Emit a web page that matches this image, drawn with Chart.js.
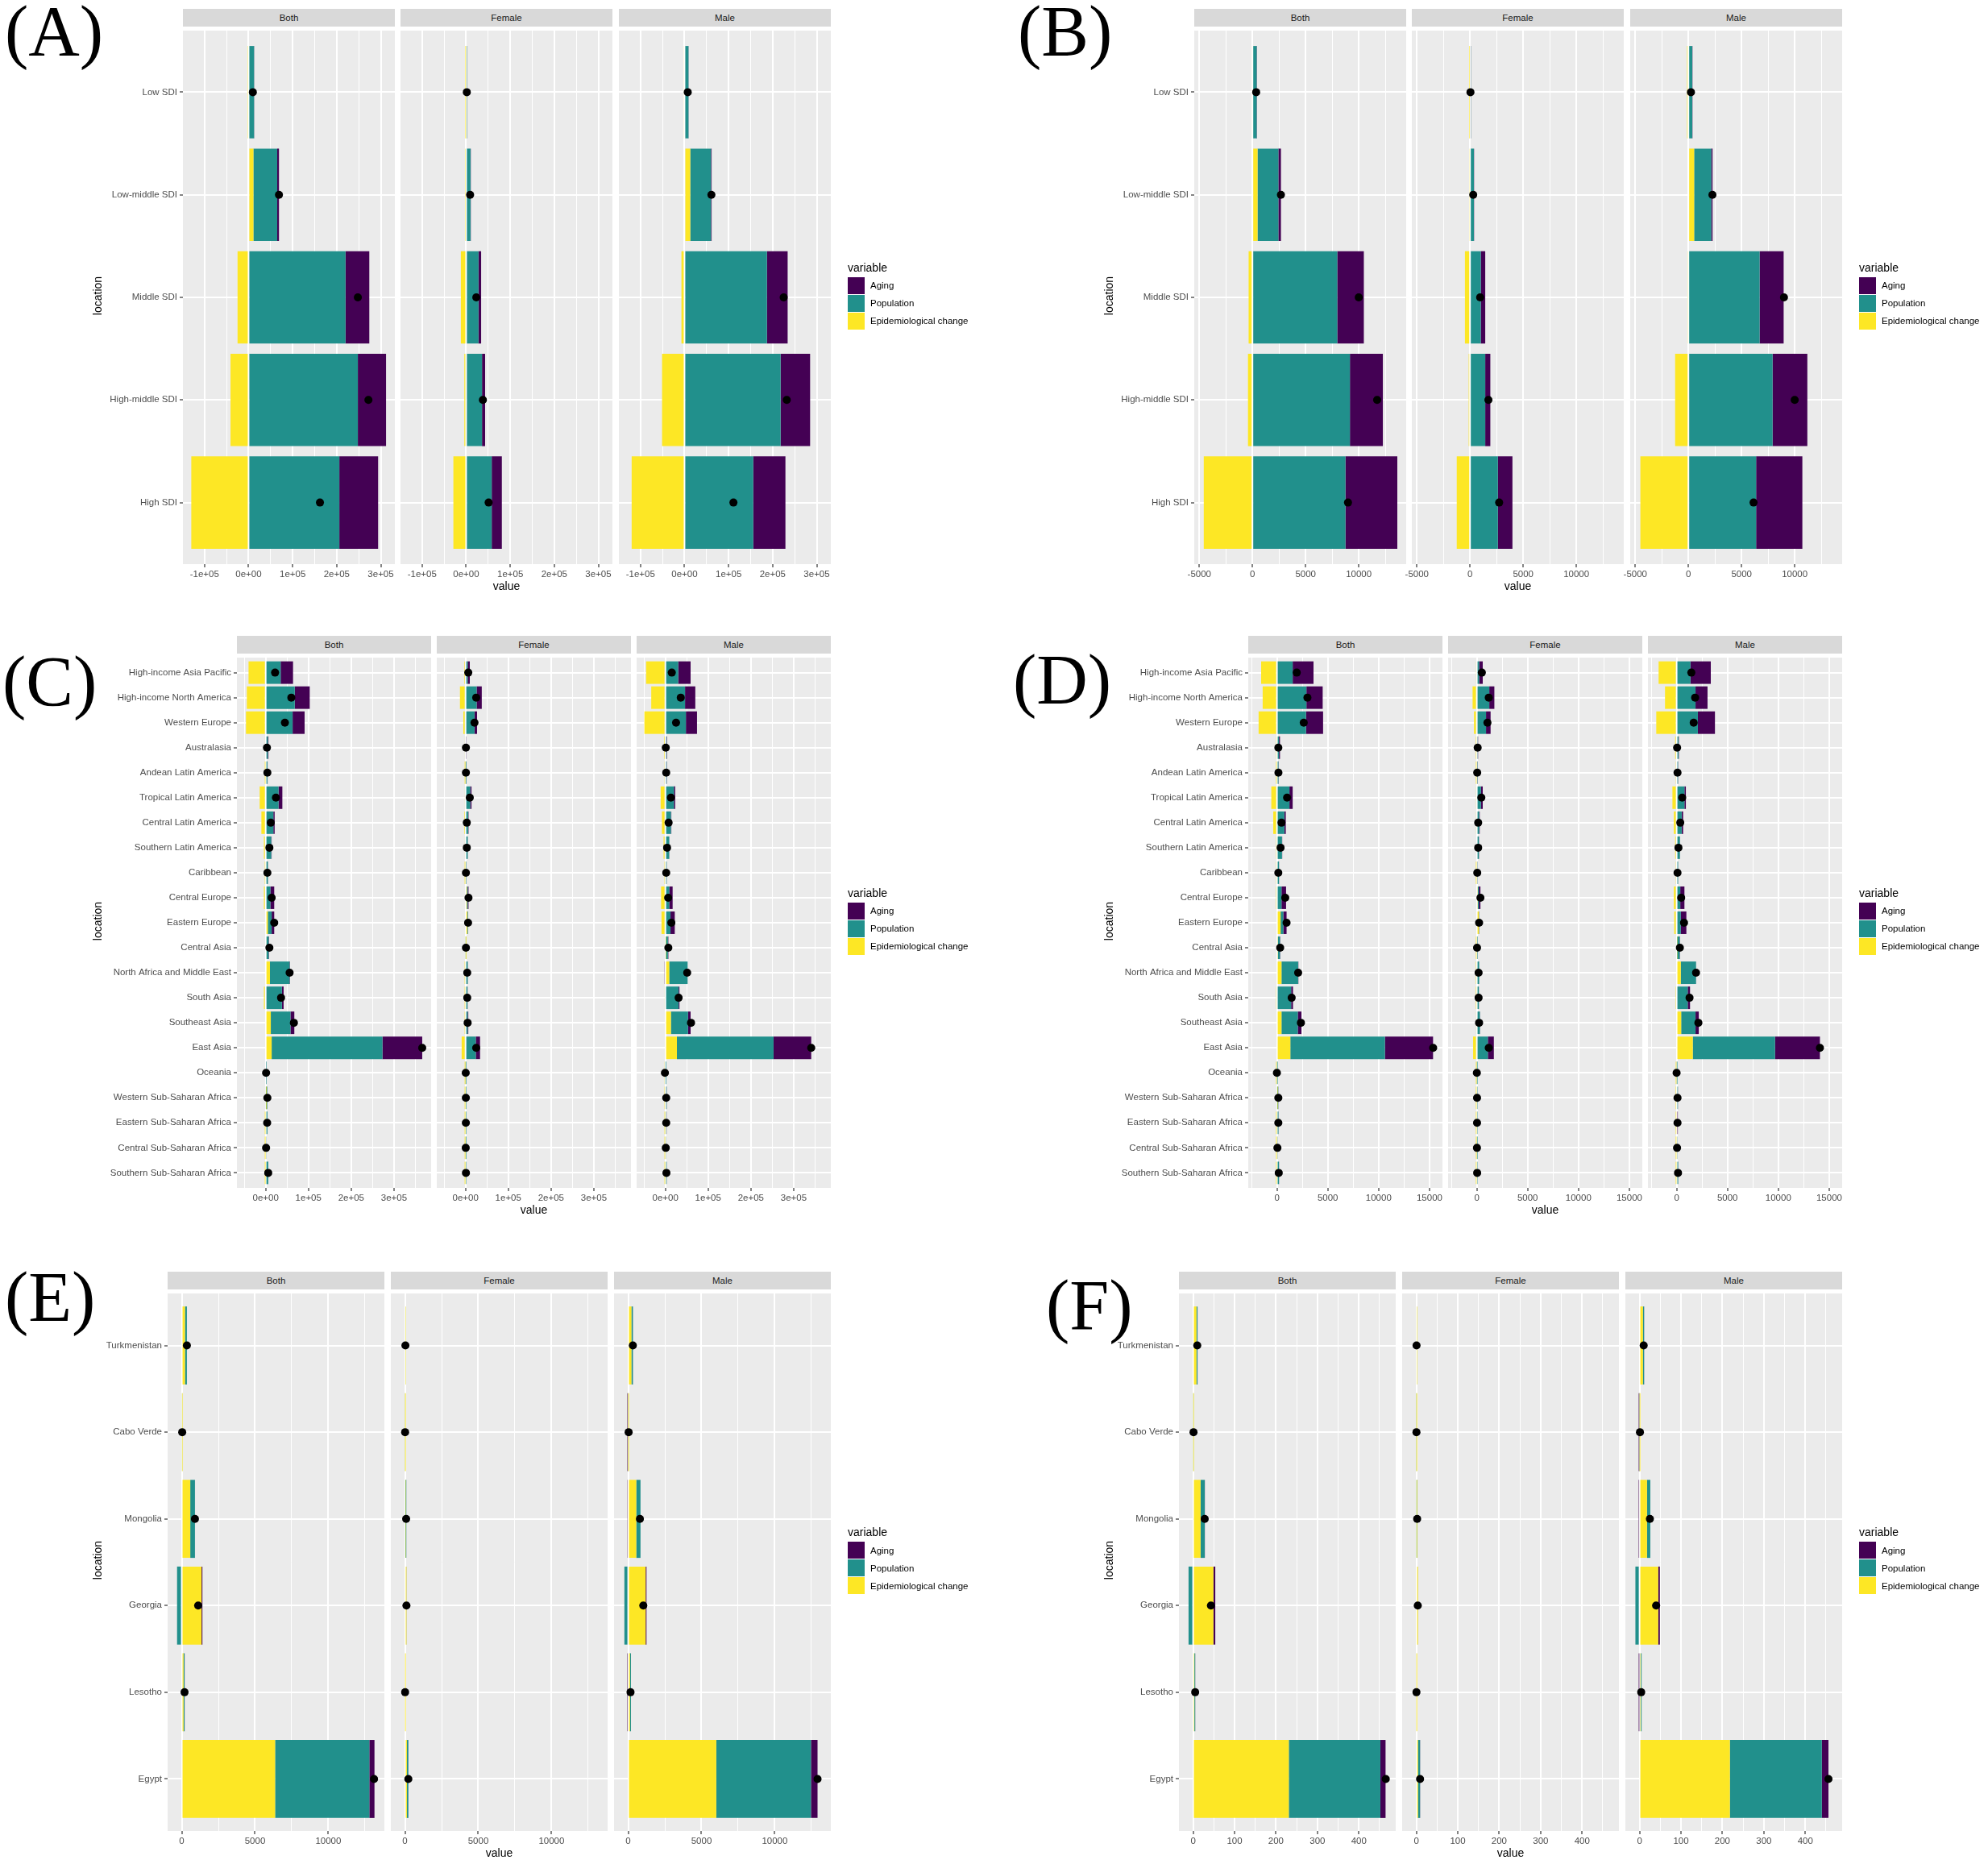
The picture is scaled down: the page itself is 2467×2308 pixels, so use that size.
<!DOCTYPE html>
<html>
<head>
<meta charset="utf-8">
<script src="https://cdn.jsdelivr.net/npm/chart.js@4.4.1/dist/chart.umd.min.js"></script>
<style>
  html, body { margin:0; padding:0; background:#ffffff; }
  body { width:2467px; height:2308px; position:relative; overflow:hidden; font-family:'Liberation Sans', Arial, sans-serif; }
  .strip { position:absolute; background:#D9D9D9; color:#1A1A1A; font-size:11.5px; text-align:center; height:22px; line-height:22px; }
  .plabel { position:absolute; font-family:'Liberation Serif','Times New Roman',serif; font-size:88px; line-height:88px; color:#000; white-space:nowrap; }
  .ytitle { position:absolute; width:120px; height:16px; line-height:16px; font-size:14px; text-align:center; color:#000; transform:rotate(-90deg); }
  .xtitle { position:absolute; width:200px; height:16px; line-height:16px; font-size:14px; text-align:center; color:#000; }
  .legtitle { position:absolute; font-size:14px; line-height:16px; color:#000; white-space:nowrap; }
  .legkey { position:absolute; width:21px; height:21px; }
  .leglab { position:absolute; font-size:11.5px; line-height:14px; color:#000; white-space:nowrap; }
  .facet { position:absolute; }
</style>
</head>
<body>
<script>
// ---------------- DATA ----------------
const sexes = ["Both", "Female", "Male"];
const variableNames = ["Aging", "Population", "Epidemiological change"];

// Panel A / B : SDI regions
const sdiLocations = ["Low SDI", "Low-middle SDI", "Middle SDI", "High-middle SDI", "High SDI"];

const A_both_epi    = [-2500, 11000, -25000, -41000, -130000];
const A_both_pop    = [12500, 54000, 220000, 248000, 206000];
const A_both_aging  = [300, 4000, 54000, 64000, 88000];
const A_both_total  = [9700, 69000, 248000, 272000, 162000];
const A_female_epi   = [-500, -1000, -12000, -4000, -29000];
const A_female_pop   = [2500, 10000, 28000, 36000, 58000];
const A_female_aging = [200, 500, 6000, 7000, 23000];
const A_female_total = [1500, 9000, 23000, 38000, 51000];
const A_male_epi   = [-2000, 13000, -7000, -51000, -120000];
const A_male_pop   = [9000, 47000, 187000, 218000, 156000];
const A_male_aging = [300, 1500, 47000, 67000, 73000];
const A_male_total = [7300, 61000, 225000, 232000, 111000];
const A_xLimits = [-149000, 332000];
const A_majorTicks = [-100000, 0, 100000, 200000, 300000];
const A_tickLabels = ["-1e+05", "0e+00", "1e+05", "2e+05", "3e+05"];
const A_minorTicks = [-50000, 50000, 150000, 250000];

const B_both_epi    = [-80, 480, -360, -420, -4580];
const B_both_pop    = [400, 1960, 7980, 9170, 8750];
const B_both_aging  = [30, 240, 2500, 3100, 4880];
const B_both_total  = [350, 2680, 10000, 11730, 8990];
const B_female_epi   = [-30, -60, -480, -120, -1250];
const B_female_pop   = [60, 360, 1010, 1430, 2620];
const B_female_aging = [10, 20, 420, 480, 1370];
const B_female_total = [40, 300, 950, 1730, 2740];
const B_male_epi   = [-120, 540, -60, -1250, -4520];
const B_male_pop   = [360, 1610, 6700, 7920, 6370];
const B_male_aging = [20, 120, 2260, 3270, 4350];
const B_male_total = [240, 2260, 8990, 10000, 6130];
const B_xLimits = [-5476, 14464];
const B_majorTicks = [-5000, 0, 5000, 10000];
const B_tickLabels = ["-5000", "0", "5000", "10000"];
const B_minorTicks = [-2500, 2500, 7500, 12500];

// Panel C / D : GBD regions
const gbdRegions = ["High-income Asia Pacific", "High-income North America", "Western Europe", "Australasia",
  "Andean Latin America", "Tropical Latin America", "Central Latin America", "Southern Latin America",
  "Caribbean", "Central Europe", "Eastern Europe", "Central Asia", "North Africa and Middle East",
  "South Asia", "Southeast Asia", "East Asia", "Oceania", "Western Sub-Saharan Africa",
  "Eastern Sub-Saharan Africa", "Central Sub-Saharan Africa", "Southern Sub-Saharan Africa"];

const C_both_epi   = [-40000, -44000, -46000, -2000, -500, -14000, -10000, -4000, -1000, -4000, 5000, 2000, 10000, -4000, 12000, 14000, 0, 500, -500, -300, -300];
const C_both_pop   = [35000, 68000, 63000, 5000, 4000, 30000, 18000, 13000, 5000, 11000, 9000, 5000, 46000, 38000, 46000, 259000, 800, 3000, 4000, 1500, 6000];
const C_both_aging = [29000, 35000, 28000, 1500, 500, 9000, 3000, 1000, 300, 9000, 6000, 1000, 1000, 4000, 9000, 93000, 200, 300, 200, 100, 300];
const C_both_total = [22000, 60000, 45000, 3000, 4000, 24000, 12000, 8700, 4000, 14000, 20000, 8700, 56000, 36000, 66000, 366000, 1000, 4000, 3500, 1000, 6000];
const C_female_epi   = [-3000, -13000, -5000, -2000, -300, -2000, -3000, -2000, -500, 3000, 4000, 300, -1000, -800, -1000, -9000, -200, -300, -300, -200, -300];
const C_female_pop   = [5000, 26000, 21000, 2000, 500, 11000, 6000, 5000, 1000, 2000, 1500, 800, 5000, 4500, 5000, 24000, 300, 800, 800, 500, 1000];
const C_female_aging = [5000, 12000, 6000, 500, 500, 3000, 1000, 300, 200, 2000, 500, 200, 300, 300, 1500, 10000, 100, 100, 100, 50, 100];
const C_female_total = [6500, 25000, 21000, 1000, 1000, 10000, 3000, 3000, 1000, 7000, 6000, 1000, 4000, 4000, 5000, 25000, 500, 800, 800, 500, 1000];
const C_male_epi   = [-45000, -33000, -49000, -3000, -1500, -11000, -8000, -4000, -1000, -10000, -9000, 1000, 9000, -2000, 13000, 27000, -1500, -1000, -500, -500, -500];
const C_male_pop   = [30000, 46000, 48000, 3000, 3000, 20000, 13000, 9000, 3000, 9000, 12000, 5000, 43000, 31000, 40000, 226000, 500, 3000, 2500, 1500, 3000];
const C_male_aging = [29000, 24000, 26000, 1000, 500, 3000, 1000, 300, 200, 8000, 10000, 1000, -1500, 2000, 6000, 88000, 0, 300, 300, 100, 200];
const C_male_total = [15000, 36000, 25000, 1000, 2000, 13000, 7600, 4000, 2000, 6500, 14000, 7000, 51000, 31000, 60000, 341000, -1000, 2000, 2000, 1000, 2500];
const C_xLimits = [-67200, 386800];
const C_majorTicks = [0, 100000, 200000, 300000];
const C_tickLabels = ["0e+00", "1e+05", "2e+05", "3e+05"];
const C_minorTicks = [-50000, 50000, 150000, 250000, 350000];

const D_both_epi   = [-1550, -1400, -1800, -100, -20, -550, -360, -100, -60, -50, 360, 100, 450, -100, 450, 1320, -20, 30, -20, -10, -20];
const D_both_pop   = [1550, 2900, 2860, 200, 150, 1230, 730, 500, 200, 450, 270, 200, 1640, 1400, 1600, 9300, 20, 100, 150, 60, 200];
const D_both_aging = [2050, 1600, 1680, 100, 20, 320, 140, 20, 10, 450, 320, 30, 20, 180, 360, 4730, 5, 10, 10, 5, 10];
const D_both_total = [1950, 3000, 2640, 140, 150, 1000, 450, 360, 140, 820, 950, 320, 2090, 1450, 2360, 15360, 0, 140, 140, 50, 180];
const D_female_epi   = [-90, -410, -270, -40, -20, -90, -90, -80, -20, 100, 200, -20, -50, -40, -70, -360, -10, -20, -20, -10, -20];
const D_female_pop   = [230, 1230, 910, 100, 50, 410, 230, 200, 60, 100, 20, 40, 230, 200, 300, 1090, 20, 50, 50, 30, 50];
const D_female_aging = [360, 500, 450, 30, 20, 180, 60, 20, 10, 160, 20, 10, 10, 10, 20, 590, 5, 5, 5, 5, 5];
const D_female_total = [500, 1180, 1050, 90, 45, 450, 140, 140, 50, 360, 230, 30, 180, 180, 230, 1180, 10, 30, 30, 20, 40];
const D_male_epi   = [-1770, -1140, -2000, -140, -60, -410, -270, -140, -60, -270, -230, 50, 410, -50, 450, 1590, -20, -40, -30, -20, -20];
const D_male_pop   = [1360, 1860, 2090, 180, 130, 770, 500, 320, 140, 360, 410, 250, 1500, 1090, 1410, 8090, 20, 120, 80, 60, 150];
const D_male_aging = [2000, 1180, 1680, 40, 20, 140, 140, 20, 10, 410, 550, 30, 10, 230, 320, 4410, 5, 10, 40, 5, 10];
const D_male_total = [1450, 1820, 1680, 50, 90, 550, 360, 180, 90, 450, 730, 320, 1910, 1270, 2140, 14090, 0, 90, 90, 45, 140];
const D_xLimits = [-2818, 16273];
const D_majorTicks = [0, 5000, 10000, 15000];
const D_tickLabels = ["0", "5000", "10000", "15000"];
const D_minorTicks = [-2500, 2500, 7500, 12500];

// Panel E / F : countries
const countries = ["Turkmenistan", "Cabo Verde", "Mongolia", "Georgia", "Lesotho", "Egypt"];

const E_both_epi   = [220, 20, 580, 1350, 120, 6370];
const E_both_pop   = [130, 10, 320, -320, 70, 6430];
const E_both_aging = [5, 2, 5, 60, 5, 350];
const E_both_total = [350, 30, 900, 1120, 190, 13120];
const E_female_epi   = [30, 5, 30, 100, 10, 130];
const E_female_pop   = [5, 10, 60, 5, 2, 100];
const E_female_aging = [1, 1, 2, 5, 1, 10];
const E_female_total = [30, 10, 80, 100, 10, 230];
const E_male_epi   = [220, 5, 550, 1190, 120, 6010];
const E_male_pop   = [100, 10, 290, -260, 70, 6460];
const E_male_aging = [5, -20, -40, 60, -30, 450];
const E_male_total = [320, 30, 800, 1030, 160, 12920];
const E_xLimits = [-965, 13826];
const E_majorTicks = [0, 5000, 10000];
const E_tickLabels = ["0", "5000", "10000"];
const E_minorTicks = [2500, 7500, 12500];

const F_both_epi   = [8, 0.5, 18, 49, 3, 231];
const F_both_pop   = [2.5, 0.5, 10, -11, 2, 221];
const F_both_aging = [0.2, 0.1, 0.3, 4.5, 0.2, 12.5];
const F_both_total = [10, 1, 28, 43, 5, 465];
const F_female_epi   = [1, 0.2, 0.5, 4, 0.3, 4];
const F_female_pop   = [0.2, 0.5, 1.5, 0.2, 0.1, 5];
const F_female_aging = [0.05, 0.05, 0.1, 0.2, 0.05, 0.3];
const F_female_total = [0.5, 0.3, 2, 3.5, 0.3, 9];
const F_male_epi   = [8, 0.2, 18, 45, 3, 218];
const F_male_pop   = [3, 0.5, 8, -10, 2, 222];
const F_male_aging = [0.2, -0.5, -1, 4, -0.5, 16];
const F_male_total = [10, 1, 25, 40, 4, 456];
const F_xLimits = [-34.2, 489];
const F_majorTicks = [0, 100, 200, 300, 400];
const F_tickLabels = ["0", "100", "200", "300", "400"];
const F_minorTicks = [50, 150, 250, 350, 450];

// ---------------- STYLE / LAYOUT ----------------
const COLORS = { aging: "#440154", pop: "#21908C", epi: "#FDE725" };

const rowA = { stripTop: 11, plotTop: 33, plotBottom: 700, lefts: [227, 497, 768], w: 263, yLabW: 215 };
const rowC = { stripTop: 789, plotTop: 811, plotBottom: 1474, lefts: [294, 542, 790], w: 241, yLabW: 282 };
const rowE = { stripTop: 1578, plotTop: 1600, plotBottom: 2272, lefts: [208, 485, 762], w: 269, yLabW: 200 };
const SIDE_MARGIN = 26;

const PANELS = [
  { id: "A", cats: sdiLocations, row: rowA, dx: 0, lab: { x: 6, y: -5 },
    series: [[A_both_epi, A_both_pop, A_both_aging, A_both_total], [A_female_epi, A_female_pop, A_female_aging, A_female_total], [A_male_epi, A_male_pop, A_male_aging, A_male_total]],
    limits: A_xLimits, majors: A_majorTicks, labels: A_tickLabels, minors: A_minorTicks },
  { id: "B", cats: sdiLocations, row: rowA, dx: 1255, lab: { x: 1263, y: -5 },
    series: [[B_both_epi, B_both_pop, B_both_aging, B_both_total], [B_female_epi, B_female_pop, B_female_aging, B_female_total], [B_male_epi, B_male_pop, B_male_aging, B_male_total]],
    limits: B_xLimits, majors: B_majorTicks, labels: B_tickLabels, minors: B_minorTicks },
  { id: "C", cats: gbdRegions, row: rowC, dx: 0, lab: { x: 3, y: 802 },
    series: [[C_both_epi, C_both_pop, C_both_aging, C_both_total], [C_female_epi, C_female_pop, C_female_aging, C_female_total], [C_male_epi, C_male_pop, C_male_aging, C_male_total]],
    limits: C_xLimits, majors: C_majorTicks, labels: C_tickLabels, minors: C_minorTicks },
  { id: "D", cats: gbdRegions, row: rowC, dx: 1255, lab: { x: 1257, y: 800 },
    series: [[D_both_epi, D_both_pop, D_both_aging, D_both_total], [D_female_epi, D_female_pop, D_female_aging, D_female_total], [D_male_epi, D_male_pop, D_male_aging, D_male_total]],
    limits: D_xLimits, majors: D_majorTicks, labels: D_tickLabels, minors: D_minorTicks },
  { id: "E", cats: countries, row: rowE, dx: 0, lab: { x: 6, y: 1566 },
    series: [[E_both_epi, E_both_pop, E_both_aging, E_both_total], [E_female_epi, E_female_pop, E_female_aging, E_female_total], [E_male_epi, E_male_pop, E_male_aging, E_male_total]],
    limits: E_xLimits, majors: E_majorTicks, labels: E_tickLabels, minors: E_minorTicks },
  { id: "F", cats: countries, row: rowE, dx: 1255, lab: { x: 1298, y: 1576 },
    series: [[F_both_epi, F_both_pop, F_both_aging, F_both_total], [F_female_epi, F_female_pop, F_female_aging, F_female_total], [F_male_epi, F_male_pop, F_male_aging, F_male_total]],
    limits: F_xLimits, majors: F_majorTicks, labels: F_tickLabels, minors: F_minorTicks }
];

Chart.defaults.font.family = "'Liberation Sans', Arial, sans-serif";
Chart.defaults.font.size = 11.5;
Chart.defaults.color = "#4D4D4D";

const panelBg = {
  id: "panelBg",
  beforeDraw(chart) {
    const { ctx, chartArea: a } = chart;
    ctx.save();
    ctx.fillStyle = "#EBEBEB";
    ctx.fillRect(a.left, a.top, a.right - a.left, a.bottom - a.top);
    ctx.restore();
  }
};

function addDiv(cls, text, css) {
  const d = document.createElement("div");
  d.className = cls;
  if (text !== null) d.textContent = text;
  Object.assign(d.style, css);
  document.body.appendChild(d);
  return d;
}

function buildFacet(p, si) {
  const r = p.row;
  const showY = si === 0;
  const L = showY ? r.yLabW : SIDE_MARGIN;
  const R = SIDE_MARGIN;
  const Bh = 40;
  const plotH = r.plotBottom - r.plotTop;
  const x0 = p.dx + r.lefts[si];
  const wrap = addDiv("facet", null, {
    left: (x0 - L) + "px", top: r.plotTop + "px",
    width: (L + r.w + R) + "px", height: (plotH + Bh) + "px"
  });
  const cv = document.createElement("canvas");
  wrap.appendChild(cv);

  const [epi, pop, aging, total] = p.series[si];
  const positions = p.cats.map((c, i) => i + 1);
  const allX = p.majors.concat(p.minors).sort((a, b) => a - b);
  const isMajor = v => p.majors.indexOf(v) !== -1;
  const barBase = { stack: "bars", borderWidth: 0, categoryPercentage: 1, barPercentage: 0.9 };

  new Chart(cv, {
    type: "bar",
    data: {
      labels: positions,
      datasets: [
        Object.assign({ label: variableNames[2], data: epi, backgroundColor: COLORS.epi }, barBase),
        Object.assign({ label: variableNames[1], data: pop, backgroundColor: COLORS.pop }, barBase),
        Object.assign({ label: variableNames[0], data: aging, backgroundColor: COLORS.aging }, barBase),
        { type: "line", label: "Total", data: total, showLine: false, stack: "points", order: -1,
          pointRadius: 5, pointHoverRadius: 5, pointBackgroundColor: "#000000",
          pointBorderColor: "#000000", pointBorderWidth: 0, clip: false }
      ]
    },
    options: {
      responsive: true,
      maintainAspectRatio: false,
      animation: false,
      events: [],
      indexAxis: "y",
      layout: { padding: { left: 0, top: 0, bottom: 0, right: R } },
      plugins: { legend: { display: false }, tooltip: { enabled: false } },
      scales: {
        x: {
          type: "linear", position: "bottom", stacked: true, bounds: "data", offset: false,
          min: p.limits[0], max: p.limits[1],
          afterBuildTicks: s => { s.ticks = allX.map(v => ({ value: v })); s.min = p.limits[0]; s.max = p.limits[1]; },
          ticks: {
            autoSkip: false, maxRotation: 0, minRotation: 0, padding: 2, color: "#4D4D4D",
            font: { size: 11.5 },
            callback: v => { const k = p.majors.indexOf(v); return k === -1 ? "" : p.labels[k]; }
          },
          grid: {
            offset: false,
            color: "#FFFFFF",
            lineWidth: c => (c.tick && isMajor(c.tick.value)) ? 2 : 1,
            drawTicks: true, tickLength: 4, tickWidth: 1.2,
            tickColor: c => (c.tick && isMajor(c.tick.value)) ? "#333333" : "rgba(0,0,0,0)"
          },
          border: { display: false },
          afterFit: s => { s.height = Bh; s.paddingLeft = 0; s.paddingRight = 0; }
        },
        y: {
          type: "linear", position: "left", stacked: true, reverse: true, bounds: "data", offset: false,
          min: 0.4, max: p.cats.length + 0.6,
          afterBuildTicks: s => { s.ticks = positions.map(v => ({ value: v })); s.min = 0.4; s.max = p.cats.length + 0.6; },
          ticks: {
            display: showY, autoSkip: false, padding: 3, color: "#4D4D4D", font: { size: 11.5 },
            callback: v => p.cats[Math.round(v) - 1]
          },
          grid: { offset: false, color: "#FFFFFF", lineWidth: 2, drawTicks: showY, tickLength: 4, tickWidth: 1.2, tickColor: "#333333" },
          border: { display: false },
          afterFit: s => { s.width = L; s.paddingTop = 0; s.paddingBottom = 0; }
        }
      }
    },
    plugins: [panelBg]
  });
}

function buildPanel(p) {
  const r = p.row;
  addDiv("plabel", "(" + p.id + ")", { left: p.lab.x + "px", top: p.lab.y + "px" });
  sexes.forEach((s, si) => {
    addDiv("strip", s, { left: (p.dx + r.lefts[si]) + "px", top: r.stripTop + "px", width: r.w + "px", height: (r.plotTop - r.stripTop) + "px", lineHeight: (r.plotTop - r.stripTop) + "px" });
  });
  sexes.forEach((s, si) => buildFacet(p, si));
  const cy = (r.plotTop + r.plotBottom) / 2;
  addDiv("ytitle", "location", { left: (p.dx + 121 - 60) + "px", top: (cy - 8) + "px" });
  const cx = p.dx + r.lefts[1] + r.w / 2;
  addDiv("xtitle", "value", { left: (cx - 100) + "px", top: (r.plotBottom + 27 - 8) + "px" });
  const lx = p.dx + 1052;
  addDiv("legtitle", "variable", { left: lx + "px", top: (cy - 35 - 8) + "px" });
  const keyCols = [COLORS.aging, COLORS.pop, COLORS.epi];
  variableNames.forEach((nm, i) => {
    const top = cy - 23 + i * 22;
    addDiv("legkey", null, { left: lx + "px", top: top + "px", background: keyCols[i] });
    addDiv("leglab", nm, { left: (lx + 28) + "px", top: (top + 10.5 - 7) + "px" });
  });
}

PANELS.forEach(buildPanel);
</script>
</body>
</html>
